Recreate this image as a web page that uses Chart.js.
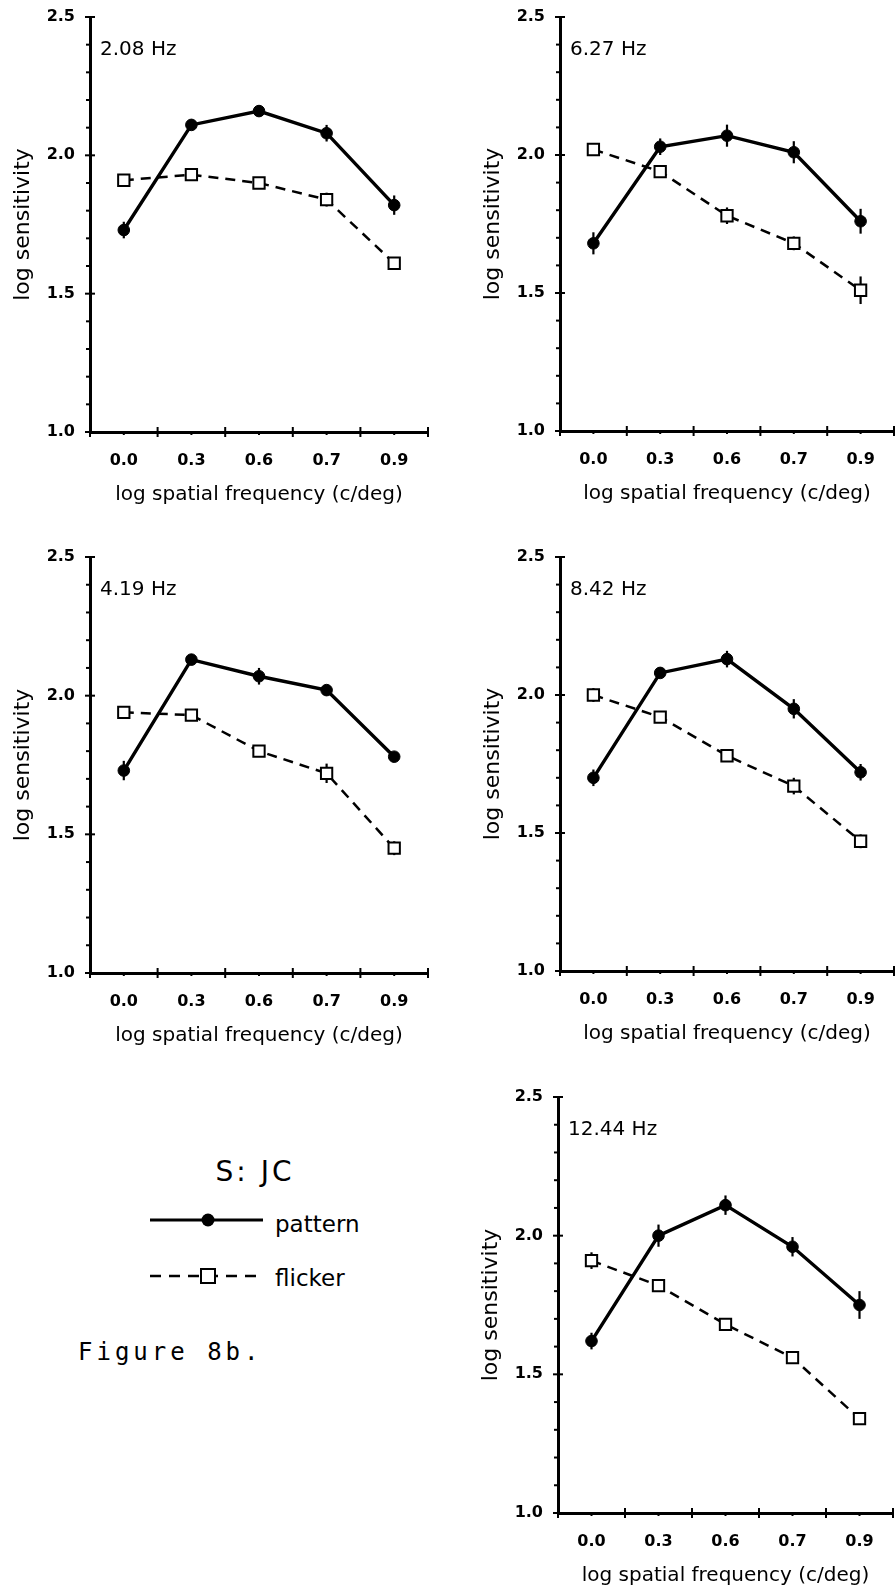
<!DOCTYPE html>
<html>
<head>
<meta charset="utf-8">
<script src="https://cdn.jsdelivr.net/npm/chart.js@4.4.1/dist/chart.umd.min.js"></script>
<style>
  html, body { margin: 0; padding: 0; background: #fff; }
  body { width: 895px; height: 1591px; position: relative; overflow: hidden; font-family: "DejaVu Sans", sans-serif; color: #000; }
  canvas { position: absolute; }
  .txt { position: absolute; white-space: nowrap; }
</style>
</head>
<body>
<canvas id="p208"></canvas>
<canvas id="p627"></canvas>
<canvas id="p419"></canvas>
<canvas id="p842"></canvas>
<canvas id="p1244"></canvas>

<div class="txt" style="left:155px; top:1158px; width:200px; text-align:center; font-size:28px; line-height:28px; letter-spacing:3px;">S: JC</div>
<svg style="position:absolute; left:140px; top:1200px;" width="135" height="95">
  <line x1="10" y1="20" x2="123" y2="20" stroke="#000" stroke-width="3.2"/>
  <circle cx="68" cy="20" r="6.5" fill="#000"/>
  <line x1="10" y1="76" x2="123" y2="76" stroke="#000" stroke-width="2.6" stroke-dasharray="11,8"/>
  <rect x="61" y="69" width="14" height="14" fill="#fff" stroke="#000" stroke-width="2"/>
</svg>
<div class="txt" style="left:275px; top:1213px; font-size:23px; line-height:23px;">pattern</div>
<div class="txt" style="left:275px; top:1267px; font-size:23px; line-height:23px;">flicker</div>
<div class="txt" style="left:78px; top:1340px; font-family:'DejaVu Sans Mono', monospace; font-size:24px; line-height:24px; letter-spacing:4px;">Figure 8b.</div>

<script>
// x categories: log spatial frequency (c/deg)
const categories = ['0.0', '0.3', '0.6', '0.7', '0.9'];
const yMin = 1.0;
const yMax = 2.5;
const yStep = 0.5;

// log sensitivity, per temporal frequency
const pattern208 = [1.73, 2.11, 2.16, 2.08, 1.82];
const flicker208 = [1.91, 1.93, 1.90, 1.84, 1.61];
const patternErr208 = [0.03, 0.015, 0.02, 0.03, 0.035];
const flickerErr208 = [0.01, 0.02, 0.02, 0.025, 0.01];

const pattern627 = [1.68, 2.03, 2.07, 2.01, 1.76];
const flicker627 = [2.02, 1.94, 1.78, 1.68, 1.51];
const patternErr627 = [0.04, 0.03, 0.04, 0.04, 0.045];
const flickerErr627 = [0.01, 0.015, 0.03, 0.025, 0.05];

const pattern419 = [1.73, 2.13, 2.07, 2.02, 1.78];
const flicker419 = [1.94, 1.93, 1.80, 1.72, 1.45];
const patternErr419 = [0.035, 0.02, 0.03, 0.015, 0.01];
const flickerErr419 = [0.02, 0.015, 0.015, 0.035, 0.025];

const pattern842 = [1.70, 2.08, 2.13, 1.95, 1.72];
const flicker842 = [2.00, 1.92, 1.78, 1.67, 1.47];
const patternErr842 = [0.03, 0.015, 0.03, 0.035, 0.03];
const flickerErr842 = [0.025, 0.015, 0.015, 0.03, 0.025];

const pattern1244 = [1.62, 2.00, 2.11, 1.96, 1.75];
const flicker1244 = [1.91, 1.82, 1.68, 1.56, 1.34];
const patternErr1244 = [0.03, 0.04, 0.035, 0.035, 0.05];
const flickerErr1244 = [0.03, 0.015, 0.015, 0.015, 0.015];

// axis ticks, minor ticks and error bars, placed with the chart's own scales
const axisMarks = {
    id: 'axisMarks',
    beforeDatasetsDraw(chart) {
        const { ctx, chartArea: a, scales: { x, y } } = chart;
        ctx.save();
        ctx.strokeStyle = '#000';
        ctx.lineWidth = 2;
        const nMinor = Math.round((yMax - yMin) / 0.1);
        for (let k = 0; k <= nMinor; k++) {
            const py = y.getPixelForValue(yMin + k * 0.1);
            const major = k % 5 === 0;
            ctx.beginPath();
            ctx.moveTo(a.left - (major ? 5 : 4), py);
            ctx.lineTo(a.left + (major ? 5 : 0), py);
            ctx.stroke();
        }
        const step = x.getPixelForValue(1) - x.getPixelForValue(0);
        for (let i = 0; i <= categories.length; i++) {
            const px = x.getPixelForValue(0) - step / 2 + i * step;
            ctx.beginPath();
            ctx.moveTo(px, a.bottom - 5);
            ctx.lineTo(px, a.bottom + 5);
            ctx.stroke();
        }
        for (let i = 0; i < categories.length; i++) {
            const px = x.getPixelForValue(i);
            ctx.beginPath();
            ctx.moveTo(px, a.bottom);
            ctx.lineTo(px, a.bottom + 3);
            ctx.stroke();
        }
        // error bars
        ctx.lineWidth = 2.2;
        chart.data.datasets.forEach(ds => {
            ds.data.forEach((v, i) => {
                const e = ds.errors[i];
                const px = x.getPixelForValue(i);
                ctx.beginPath();
                ctx.moveTo(px, y.getPixelForValue(v - e));
                ctx.lineTo(px, y.getPixelForValue(v + e));
                ctx.stroke();
            });
        });
        ctx.restore();
    },
    afterDraw(chart, args, opts) {
        const { ctx, chartArea: a } = chart;
        ctx.save();
        ctx.fillStyle = '#000';
        ctx.font = '20px "DejaVu Sans"';
        ctx.textBaseline = 'alphabetic';
        ctx.fillText(opts.text, a.left + 10, a.top + 38);
        ctx.restore();
    }
};

function makePanel(id, label, pattern, patternErr, flicker, flickerErr, pos) {
    const canvas = document.getElementById(id);
    canvas.width = pos.w;
    canvas.height = pos.h;
    canvas.style.left = pos.x + 'px';
    canvas.style.top = pos.y + 'px';
    canvas.style.width = pos.w + 'px';
    canvas.style.height = pos.h + 'px';

    new Chart(canvas.getContext('2d'), {
        type: 'line',
        data: {
            labels: categories,
            datasets: [
                {
                    label: 'pattern',
                    data: pattern,
                    errors: patternErr,
                    borderColor: '#000',
                    borderWidth: 3.4,
                    pointStyle: 'circle',
                    pointRadius: 5.8,
                    pointBackgroundColor: '#000',
                    pointBorderColor: '#000',
                    pointBorderWidth: 1,
                    tension: 0
                },
                {
                    label: 'flicker',
                    data: flicker,
                    errors: flickerErr,
                    borderColor: '#000',
                    borderWidth: 2.5,
                    borderDash: [10, 7],
                    pointStyle: 'rect',
                    pointRadius: 8,
                    pointBackgroundColor: '#fff',
                    pointBorderColor: '#000',
                    pointBorderWidth: 2,
                    tension: 0
                }
            ]
        },
        options: {
            responsive: false,
            animation: false,
            layout: { autoPadding: false, padding: { top: 17, right: 2, bottom: 0, left: 0 } },
            plugins: {
                legend: { display: false },
                tooltip: { enabled: false },
                axisMarks: { text: label }
            },
            scales: {
                x: {
                    type: 'category',
                    offset: true,
                    grid: { display: false, drawTicks: true, tickLength: 17, offset: true },
                    border: { display: true, color: '#000', width: 3 },
                    ticks: {
                        padding: 2,
                        color: '#000',
                        autoSkip: false,
                        maxRotation: 0,
                        font: { family: 'DejaVu Sans', weight: 'bold', size: 16 }
                    },
                    title: {
                        display: true,
                        text: 'log spatial frequency (c/deg)',
                        color: '#000',
                        font: { family: 'DejaVu Sans', size: 20 },
                        padding: { top: 0, bottom: 5 }
                    },
                    afterFit: s => {
                        s.height = 80;
                        s.paddingLeft = 0;
                        s.paddingRight = 0;
                    }
                },
                y: {
                    type: 'linear',
                    min: yMin,
                    max: yMax,
                    grid: { display: false, drawTicks: true, tickLength: 12 },
                    border: { display: true, color: '#000', width: 3 },
                    ticks: {
                        stepSize: yStep,
                        padding: 3,
                        color: '#000',
                        callback: v => Number(v).toFixed(1),
                        font: { family: 'DejaVu Sans', weight: 'bold', size: 16 }
                    },
                    title: {
                        display: true,
                        text: 'log sensitivity',
                        color: '#000',
                        font: { family: 'DejaVu Sans', size: 22 },
                        padding: { top: 10, bottom: 0 }
                    },
                    afterFit: s => {
                        s.width = 90;
                        s.paddingTop = 0;
                        s.paddingBottom = 0;
                    }
                }
            }
        },
        plugins: [axisMarks]
    });
}

makePanel('p208', '2.08 Hz', pattern208, patternErr208, flicker208, flickerErr208, { x: 0, y: 0, w: 430, h: 512 });
makePanel('p627', '6.27 Hz', pattern627, patternErr627, flicker627, flickerErr627, { x: 470, y: 0, w: 426, h: 511 });
makePanel('p419', '4.19 Hz', pattern419, patternErr419, flicker419, flickerErr419, { x: 0, y: 540, w: 430, h: 513 });
makePanel('p842', '8.42 Hz', pattern842, patternErr842, flicker842, flickerErr842, { x: 470, y: 540, w: 426, h: 511 });
makePanel('p1244', '12.44 Hz', pattern1244, patternErr1244, flicker1244, flickerErr1244, { x: 468, y: 1080, w: 427, h: 513 });
</script>
</body>
</html>
